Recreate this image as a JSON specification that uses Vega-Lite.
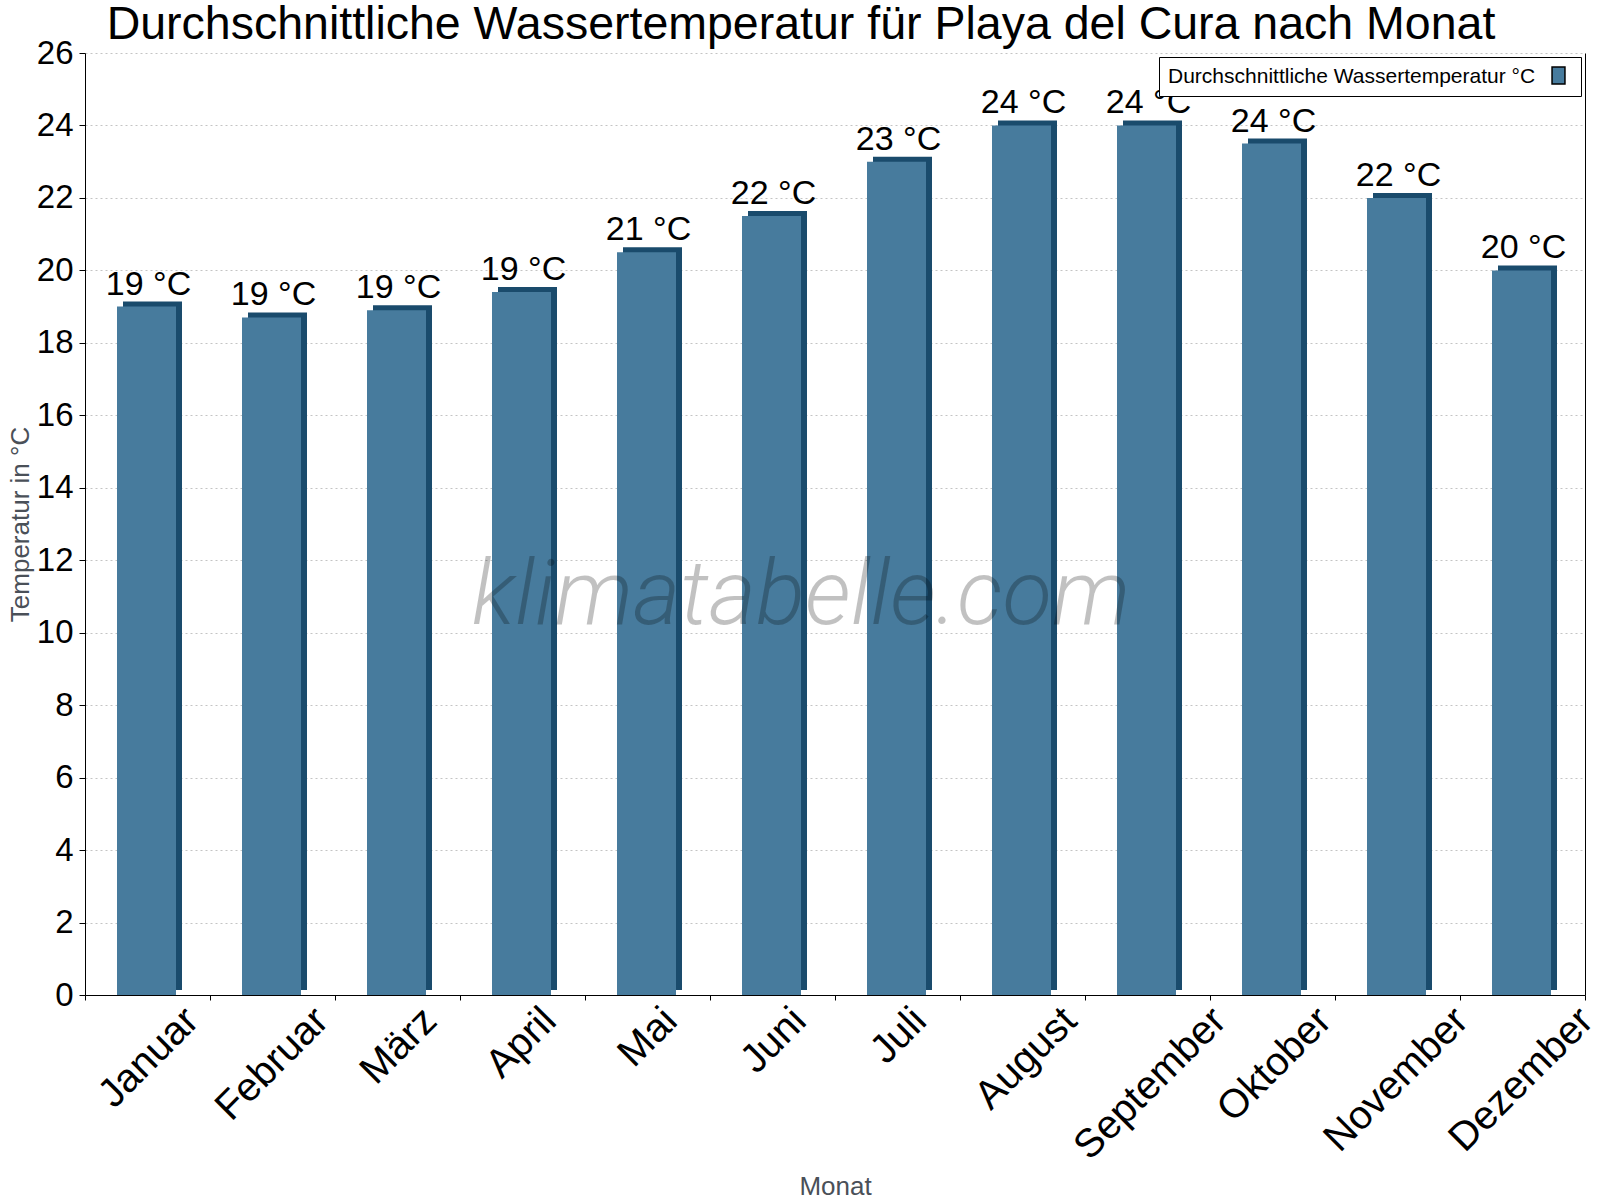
{
  "$schema": "https://vega.github.io/schema/vega-lite/v6.json",
  "width": 1500,
  "height": 942,
  "autosize": {"type": "none"},
  "padding": {"left": 85, "top": 53, "right": 15, "bottom": 205},
  "background": "white",
  "title": {
    "text": "Durchschnittliche Wassertemperatur für Playa del Cura nach Monat",
    "font": "Liberation Sans",
    "fontSize": 46.5,
    "fontWeight": "normal",
    "color": "black",
    "anchor": "middle",
    "frame": "group",
    "offset": -11,
    "dx": -34
  },
  "data": {
    "values": [
      {"month": "Januar", "temp": 19.0},
      {"month": "Februar", "temp": 18.7},
      {"month": "März", "temp": 18.9},
      {"month": "April", "temp": 19.4},
      {"month": "Mai", "temp": 20.5},
      {"month": "Juni", "temp": 21.5},
      {"month": "Juli", "temp": 23.0},
      {"month": "August", "temp": 24.0},
      {"month": "September", "temp": 24.0},
      {"month": "Oktober", "temp": 23.5},
      {"month": "November", "temp": 22.0},
      {"month": "Dezember", "temp": 20.0}
    ]
  },
  "layer": [
    {
      "mark": {"type": "bar", "size": 59, "xOffset": 5, "yOffset": -5, "color": "#1a4b6c"},
      "encoding": {
        "x": {
          "field": "month", "type": "nominal",
          "scale": {"domain": ["Januar", "Februar", "März", "April", "Mai", "Juni", "Juli", "August", "September", "Oktober", "November", "Dezember"], "paddingInner": 0, "paddingOuter": 0},
          "axis": null
        },
        "y": {"field": "temp", "type": "quantitative", "scale": {"domain": [0, 26], "nice": false}, "axis": null}
      }
    },
    {
      "mark": {"type": "bar", "size": 59, "xOffset": -1},
      "encoding": {
        "x": {
          "field": "month", "type": "nominal",
          "scale": {"domain": ["Januar", "Februar", "März", "April", "Mai", "Juni", "Juli", "August", "September", "Oktober", "November", "Dezember"], "paddingInner": 0, "paddingOuter": 0},
          "axis": {
            "title": "Monat",
            "titleFont": "Liberation Sans",
            "titleFontSize": 26,
            "titleFontWeight": "normal",
            "titleColor": "#4a5058",
            "titleBaseline": "alphabetic",
            "titleY": 199,
            "labelFont": "Liberation Sans",
            "labelFontSize": 40,
            "labelColor": "black",
            "labelAngle": -45,
            "labelAlign": "right",
            "labelBaseline": "top",
            "labelPadding": 0,
            "labelOverlap": false,
            "labelFlush": false,
            "labelLimit": 0,
            "labelOffset": {"expr": "0.3535*40*(0.556*length(datum.label) - 0.334*(length(datum.label) - length(replace(datum.label, /[il]/g, ''))) - 0.223*(length(datum.label) - length(replace(datum.label, /r/g, ''))) + 0.277*(length(datum.label) - length(replace(datum.label, /[mM]/g, '')))) - 14"},
            "tickBand": "extent",
            "tickSize": 5,
            "tickColor": "black",
            "domainColor": "black",
            "grid": false
          }
        },
        "y": {
          "field": "temp", "type": "quantitative",
          "scale": {"domain": [0, 26], "nice": false},
          "axis": {
            "title": "Temperatur in °C",
            "titleFont": "Liberation Sans",
            "titleFontSize": 26,
            "titleFontWeight": "normal",
            "titleColor": "#4a5058",
            "titleBaseline": "middle",
            "titleX": -65,
            "values": [0, 2, 4, 6, 8, 10, 12, 14, 16, 18, 20, 22, 24, 26],
            "labelFont": "Liberation Sans",
            "labelFontSize": 33,
            "labelColor": "black",
            "labelPadding": 6,
            "labelFlush": false,
            "labelOverlap": false,
            "tickSize": 6,
            "tickColor": "black",
            "domainColor": "black",
            "grid": true,
            "gridColor": "#c4c4c4",
            "gridDash": [2, 3]
          }
        },
        "color": {
          "datum": "Durchschnittliche Wassertemperatur °C",
          "type": "nominal",
          "scale": {"range": ["#477b9d"]},
          "legend": {
            "title": "Durchschnittliche Wassertemperatur °C",
            "titleOrient": "left",
            "titleFont": "Liberation Sans",
            "titleFontSize": 21,
            "titleFontWeight": "normal",
            "titleColor": "black",
            "titleLimit": 0,
            "titlePadding": 13,
            "titleBaseline": "middle",
            "labelExpr": "''",
            "labelOffset": 4,
            "symbolType": "M-0.76,-1H0.76V1H-0.76Z",
            "symbolSize": 289,
            "symbolStrokeColor": "black",
            "symbolStrokeWidth": 1.5,
            "orient": "top-right",
            "offset": 4,
            "padding": 9,
            "strokeColor": "black",
            "fillColor": "white",
            "cornerRadius": 0,
            "encode": {"symbols": {"update": {"stroke": {"value": "black"}, "strokeWidth": {"value": 1.5}}}}
          }
        }
      }
    },
    {
      "mark": {"type": "text", "font": "Liberation Sans", "fontSize": 34, "color": "black", "baseline": "alphabetic", "align": "center", "dx": 1, "dy": -12},
      "encoding": {
        "x": {
          "field": "month", "type": "nominal",
          "scale": {"domain": ["Januar", "Februar", "März", "April", "Mai", "Juni", "Juli", "August", "September", "Oktober", "November", "Dezember"], "paddingInner": 0, "paddingOuter": 0},
          "axis": null
        },
        "y": {"field": "temp", "type": "quantitative", "scale": {"domain": [0, 26], "nice": false}, "axis": null},
        "text": {"field": "temp", "type": "quantitative", "format": "$.0f"}
      }
    },
    {
      "data": {"values": [{"site": "klimatabelle.com"}]},
      "mark": {"type": "text", "font": "Roboto", "fontStyle": "italic", "fontWeight": 300, "fontSize": 91, "color": "black", "opacity": 0.24, "align": "center", "baseline": "alphabetic", "dx": -34},
      "encoding": {
        "x": {
          "datum": "Juli", "type": "nominal", "bandPosition": 0,
          "scale": {"domain": ["Januar", "Februar", "März", "April", "Mai", "Juni", "Juli", "August", "September", "Oktober", "November", "Dezember"], "paddingInner": 0, "paddingOuter": 0},
          "axis": null
        },
        "y": {
          "datum": 10.25, "type": "quantitative",
          "scale": {"domain": [0, 26], "nice": false},
          "axis": {"orient": "right", "labels": false, "ticks": false, "grid": false, "domain": true, "domainColor": "black", "title": null}
        },
        "text": {"field": "site", "type": "nominal"}
      }
    }
  ],
  "resolve": {"axis": {"x": "independent", "y": "independent"}},
  "config": {
    "font": "Liberation Sans",
    "view": {"stroke": null},
    "locale": {"number": {"decimal": ".", "thousands": ",", "grouping": [3], "currency": ["", " °C"]}}
  }
}
